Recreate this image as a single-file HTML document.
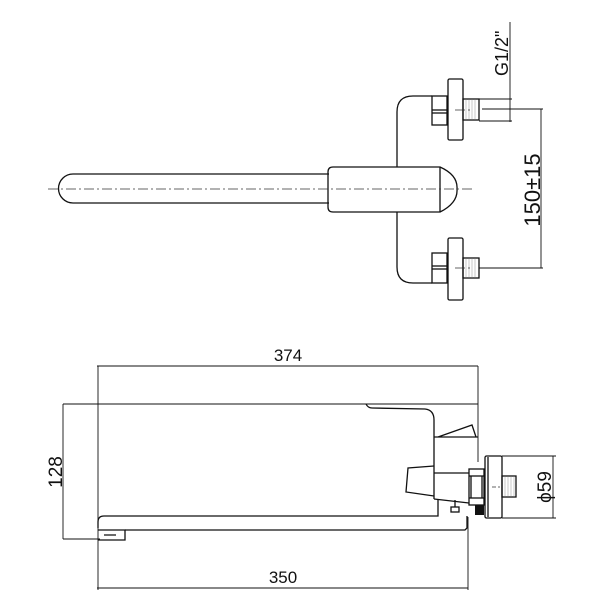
<!DOCTYPE html>
<html><head><meta charset="utf-8"><style>
html,body{margin:0;padding:0;background:#fff}
svg{display:block}
text{font-family:"Liberation Sans",Arial,sans-serif;fill:#111}
</style></head><body>
<svg width="600" height="600" viewBox="0 0 600 600" xmlns="http://www.w3.org/2000/svg">
<g fill="none" stroke="#111" stroke-width="1.3">
<path d="M329,174 L73,174 A14.5,14.5 0 0 0 73,203 L329,203"/>
<path d="M333,167 L440,167 Q458,175 457,189 Q458,203 440,212 L333,212 Q328,212 328,207 L328,172 Q328,167 333,167 Z"/>
<line x1="440" y1="167" x2="440" y2="212"/>
<path d="M397,167 L397,112 Q397,96 413,96 L432,96"/>
<path d="M397,212 L397,267 Q397,283 413,283 L432,283"/>
<rect x="432" y="96" width="15" height="29"/>
<line x1="432" y1="110" x2="447" y2="110"/><line x1="432" y1="113" x2="447" y2="113"/>
<rect x="432" y="253" width="15" height="30"/>
<line x1="432" y1="266" x2="447" y2="266"/><line x1="432" y1="269" x2="447" y2="269"/>
<rect x="448" y="79" width="15" height="61" rx="1.5"/>
<rect x="448" y="238" width="15" height="62" rx="1.5"/>
<rect x="463" y="99" width="16" height="21"/>
<rect x="463" y="258" width="16" height="20"/>
</g>
<g stroke="#777" stroke-width="0.4">
<path d="M466,99v21M469,99v21M472,99v21M475,99v21"/>
<path d="M466,258v20M469,258v20M472,258v20M475,258v20"/>
</g>
<g stroke="#333" stroke-width="0.8" stroke-dasharray="10,3,2,3" fill="none">
<line x1="48" y1="189" x2="472" y2="189"/>
<line x1="455" y1="110" x2="470" y2="110"/>
<line x1="455" y1="268" x2="470" y2="268"/>
</g>
<g stroke="#111" stroke-width="0.9" fill="none">
<line x1="510" y1="22" x2="510" y2="122"/>
<line x1="479" y1="99" x2="512" y2="99"/>
<line x1="479" y1="121" x2="512" y2="121"/>
<line x1="541" y1="109" x2="541" y2="268"/>
<line x1="482" y1="109" x2="543" y2="109"/>
<line x1="479" y1="268" x2="543" y2="268"/>
</g>
<text transform="translate(508,76) rotate(-90)" font-size="18">G1/2"</text>
<text transform="translate(540,190) rotate(-90)" font-size="22" text-anchor="middle">150±15</text>

<g fill="none" stroke="#111" stroke-width="1.3">
<path d="M366,404 Q368,408 372,408 L425,409 Q434,410 434,420 L434,437"/>
<path d="M434,437 L478,437 M438,437 L472,425 L476,437"/>
<line x1="434" y1="437" x2="434" y2="499"/>
<line x1="434" y1="473" x2="469" y2="473"/>
<path d="M434,499 L469,503"/>
<path d="M434,466 L408,468 L406,492 L434,496"/>
<path d="M98,528 L98,522 Q98,516 104,516 L438,516 L438,500"/>
<path d="M125,530 L465,530 L467,528 L467,516"/>
<path d="M98,530 L125,530 L125,540 L98,540 M104,535 L116,535"/>
<rect x="451" y="507" width="8" height="5"/>
<line x1="455" y1="500" x2="455" y2="507"/>
<rect x="469" y="469" width="15" height="36"/>
<line x1="469" y1="476" x2="484" y2="476"/><line x1="469" y1="498" x2="484" y2="498"/>
<line x1="471" y1="476" x2="471" y2="498"/><line x1="482" y1="476" x2="482" y2="498"/>
<rect x="485" y="456" width="17" height="62" rx="1.5"/>
<line x1="488" y1="457" x2="488" y2="517"/>
<rect x="502" y="476" width="14" height="21"/>
</g>
<rect x="475" y="505" width="9" height="10" fill="#111"/>
<g stroke="#777" stroke-width="0.4">
<path d="M505,476v21M508,476v21M511,476v21M514,476v21"/>
</g>
<line x1="492" y1="487" x2="500" y2="487" stroke="#333" stroke-width="0.8" stroke-dasharray="4,2"/>
<g stroke="#111" stroke-width="0.9" fill="none">
<line x1="97" y1="366" x2="478" y2="366"/>
<line x1="98" y1="366" x2="98" y2="590"/>
<line x1="478" y1="366" x2="478" y2="462"/>
<line x1="63" y1="404" x2="478" y2="404"/>
<line x1="63" y1="404" x2="63" y2="539"/>
<line x1="63" y1="539" x2="100" y2="539"/>
<line x1="97" y1="588" x2="468" y2="588"/>
<line x1="468" y1="517" x2="468" y2="590"/>
<line x1="553" y1="456" x2="553" y2="518"/>
<line x1="502" y1="456" x2="556" y2="456"/>
<line x1="502" y1="518" x2="556" y2="518"/>
</g>
<text x="288" y="361" font-size="17" text-anchor="middle">374</text>
<text x="283" y="583" font-size="17" text-anchor="middle">350</text>
<text transform="translate(62,472) rotate(-90)" font-size="19" text-anchor="middle">128</text>
<text transform="translate(551,487) rotate(-90)" font-size="19" text-anchor="middle">ϕ59</text>
</svg>
</body></html>
